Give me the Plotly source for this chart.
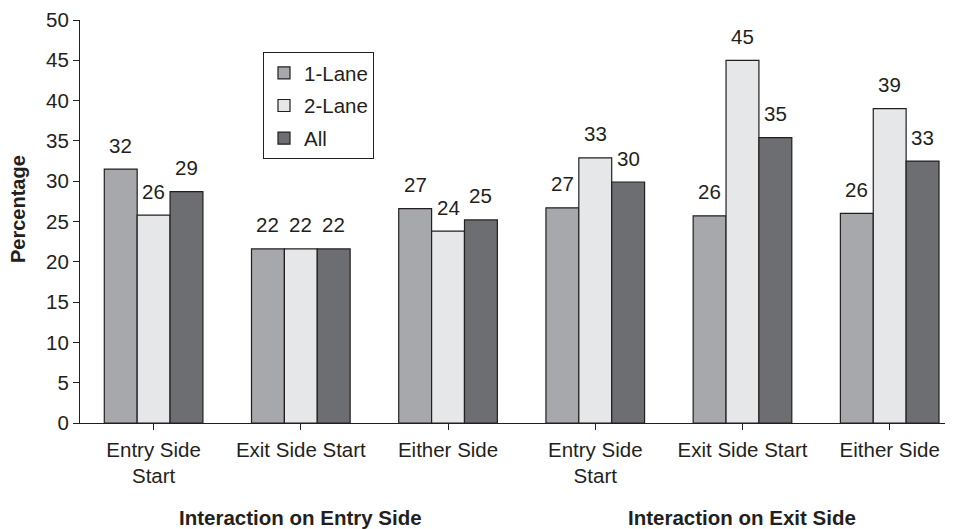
import plotly.graph_objects as go

categories = ["Entry Side<br>Start", "Exit Side Start", "Either Side",
              "Entry Side<br>Start", "Exit Side Start", "Either Side"]
cat_ids = ["c0", "c1", "c2", "c3", "c4", "c5"]
one_lane = [31.5, 21.6, 26.6, 26.7, 25.7, 26.0]
two_lane = [25.8, 21.6, 23.8, 32.9, 45.0, 39.0]
all_lanes = [28.7, 21.6, 25.2, 29.9, 35.4, 32.5]
one_lane_lbl = ["32", "22", "27", "27", "26", "26"]
two_lane_lbl = ["26", "22", "24", "33", "45", "39"]
all_lbl = ["29", "22", "25", "30", "35", "33"]
group_titles = ["Interaction on Entry Side", "Interaction on Exit Side"]
y_title = "Percentage"
y_ticks = [0, 5, 10, 15, 20, 25, 30, 35, 40, 45, 50]

FONT = "Liberation Sans, Arial, sans-serif"
TXT = "#231f20"
FS = 20.5

series = [
    ("1-Lane", one_lane, one_lane_lbl, "#a7a8ac"),
    ("2-Lane", two_lane, two_lane_lbl, "#e6e7e8"),
    ("All", all_lanes, all_lbl, "#6d6e71"),
]

fig = go.Figure()
xs = list(range(len(cat_ids)))
for k, (name, vals, lbls, col) in enumerate(series):
    fig.add_trace(go.Bar(
        x=xs, y=vals, name=name, legendgroup=name,
        marker=dict(color=col, line=dict(color=TXT, width=1.2)),
    ))

bargap = 0.33
bw = (1 - bargap) / 3
annotations = []
for k, (name, vals, lbls, col) in enumerate(series):
    for i, (v, t) in enumerate(zip(vals, lbls)):
        annotations.append(dict(
            x=i + (k - 1) * bw, y=v, xref="x", yref="y", text=t,
            showarrow=False, yanchor="middle", yshift=24,
            font=dict(family=FONT, size=FS, color=TXT)))

for g, title in enumerate(group_titles):
    annotations.append(dict(
        x=1 + 3 * g, y=0, xref="x", yref="paper", text="<b>" + title + "</b>",
        showarrow=False, yanchor="middle", yshift=-94,
        font=dict(family=FONT, size=FS, color=TXT)))

annotations.append(dict(
    x=0, y=1 - (209 - 20) / 403, xref="paper", yref="paper",
    text="<b>" + y_title + "</b>", textangle=-90, showarrow=False,
    xanchor="center", yanchor="middle", xshift=-62,
    font=dict(family=FONT, size=20, color=TXT)))

fig.update_layout(
    width=945, height=521,
    margin=dict(l=72, r=0, t=12, b=106),
    paper_bgcolor="white", plot_bgcolor="white",
    barmode="group", bargap=bargap, bargroupgap=0,
    font=dict(family=FONT, size=FS, color=TXT),
    showlegend=True,
    legend=dict(x=(263 - 80) / 873, y=1 - (52 - 20) / 403, xanchor="left", yanchor="top",
                bordercolor=TXT, borderwidth=1, bgcolor="white",
                tracegroupgap=3, font=dict(family=FONT, size=FS, color=TXT)),
    annotations=annotations,
)
fig.update_xaxes(
    tickmode="array", tickvals=xs, ticktext=categories,
    range=[-0.5, 5.43], showline=True, linecolor=TXT, linewidth=1.2,
    ticks="outside", tickson="boundaries", ticklen=6, tickcolor=TXT,
    showgrid=False, zeroline=False, ticklabelstandoff=2,
    tickfont=dict(family=FONT, size=FS, color=TXT),
)
fig.update_yaxes(
    range=[0, 50], tickvals=y_ticks, showline=True, linecolor=TXT, linewidth=1.2,
    ticks="outside", ticklen=6, tickcolor=TXT, showgrid=False, zeroline=False,
    tickfont=dict(family=FONT, size=FS, color=TXT),
)

fig.write_html("out.html")
